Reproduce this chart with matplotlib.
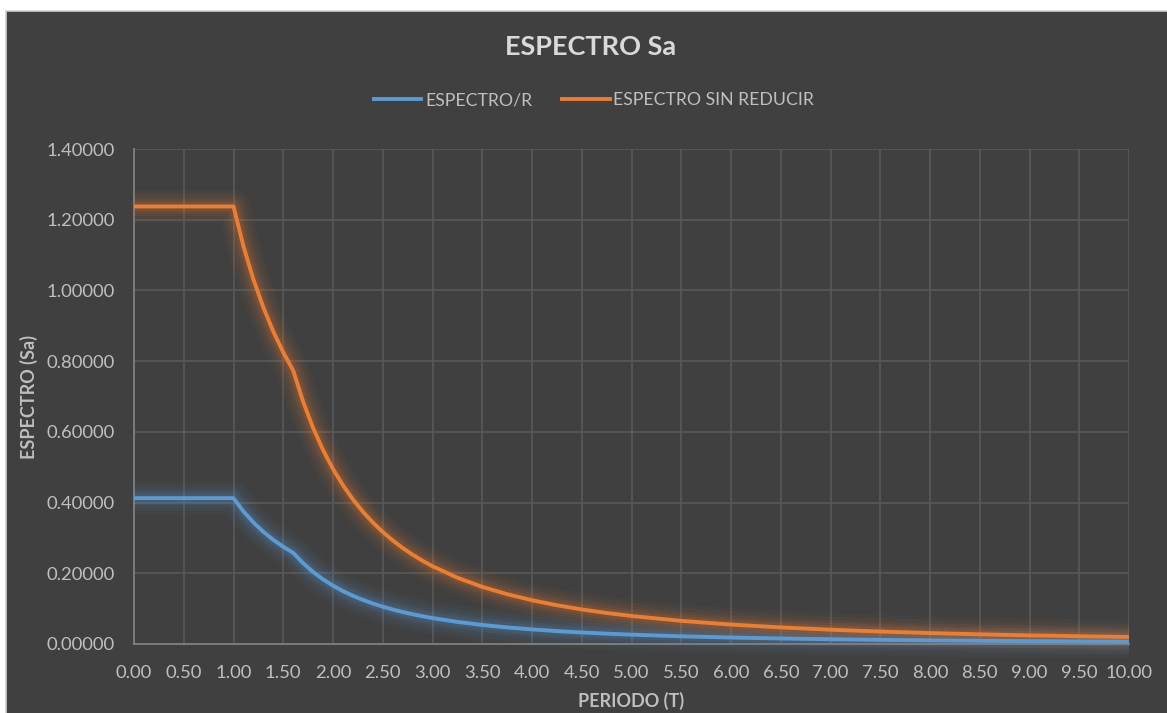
import matplotlib
matplotlib.use("Agg")
import matplotlib.pyplot as plt
from matplotlib.lines import Line2D
import numpy as np

# ---- data ----
periodo = [0.0, 0.1, 0.2, 0.3, 0.4, 0.5, 0.6, 0.7, 0.8, 0.9, 1.0,
           1.1, 1.2, 1.3, 1.4, 1.5, 1.6, 1.7, 1.8, 1.9, 2.0,
           2.1, 2.2, 2.3, 2.4, 2.5, 2.6, 2.7, 2.8, 2.9, 3.0,
           3.25, 3.5, 3.75, 4.0, 4.25, 4.5, 4.75, 5.0,
           5.5, 6.0, 6.5, 7.0, 7.5, 8.0, 8.5, 9.0, 9.5, 10.0]

espectro_sin_reducir = [1.2375, 1.2375, 1.2375, 1.2375, 1.2375, 1.2375, 1.2375, 1.2375, 1.2375, 1.2375, 1.2375,
                        1.1250, 1.0313, 0.9519, 0.8839, 0.8250, 0.7734, 0.6851, 0.6111, 0.5485, 0.4950,
                        0.4490, 0.4091, 0.3743, 0.3438, 0.3168, 0.2929, 0.2716, 0.2526, 0.2354, 0.2200,
                        0.1875, 0.1616, 0.1408, 0.1238, 0.1096, 0.0978, 0.0878, 0.0792,
                        0.0655, 0.0550, 0.0469, 0.0404, 0.0352, 0.0309, 0.0274, 0.0244, 0.0219, 0.0198]

espectro_r = [0.4125, 0.4125, 0.4125, 0.4125, 0.4125, 0.4125, 0.4125, 0.4125, 0.4125, 0.4125, 0.4125,
              0.3750, 0.3438, 0.3173, 0.2946, 0.2750, 0.2578, 0.2284, 0.2037, 0.1828, 0.1650,
              0.1497, 0.1364, 0.1248, 0.1146, 0.1056, 0.0976, 0.0905, 0.0842, 0.0785, 0.0733,
              0.0625, 0.0539, 0.0469, 0.0413, 0.0365, 0.0326, 0.0293, 0.0264,
              0.0218, 0.0183, 0.0156, 0.0135, 0.0117, 0.0103, 0.0091, 0.0081, 0.0073, 0.0066]

x_ticks = [0.0, 0.5, 1.0, 1.5, 2.0, 2.5, 3.0, 3.5, 4.0, 4.5, 5.0,
           5.5, 6.0, 6.5, 7.0, 7.5, 8.0, 8.5, 9.0, 9.5, 10.0]
y_ticks = [0.0, 0.2, 0.4, 0.6, 0.8, 1.0, 1.2, 1.4]

series_names = ["ESPECTRO/R", "ESPECTRO SIN REDUCIR"]
title = "ESPECTRO Sa"
x_label = "PERIODO (T)"
y_label = "ESPECTRO (Sa)"

# ---- style ----
FONT = ["Lato", "DejaVu Sans"]
plt.rcParams['font.family'] = FONT
BG = "#404040"
GRID = "#595959"
AXIS = "#808080"
TICK_TXT = "#bfbfbf"
LBL_TXT = "#d9d9d9"
BLUE = "#5b9bd5"
ORANGE = "#ed7d31"

W, H = 1167, 713
fig = plt.figure(figsize=(W / 100, H / 100), dpi=100)
fig.patch.set_facecolor("white")

# dark chart background with thin light border
bg = plt.Rectangle((6 / W, -0.01), 1 - 6 / W + 0.01, 1 - 11 / H + 0.01, transform=fig.transFigure,
                   facecolor=BG, edgecolor="#d0d0d0", linewidth=1.2, zorder=-10)
fig.patches.append(bg)

L, R, T, B = 134, 1129, 149, 644
ax = fig.add_axes([L / W, 1 - B / H, (R - L) / W, (B - T) / H])
ax.set_zorder(1)
ax.set_facecolor(BG)

ax.set_xlim(0, 10)
ax.set_ylim(0, 1.4)
ax.set_xticks(x_ticks)
ax.set_yticks(y_ticks)
ax.set_xticklabels([f"{v:.2f}" for v in x_ticks])
ax.set_yticklabels([f"{v:.5f}" for v in y_ticks])
ax.tick_params(axis="both", length=0, colors=TICK_TXT, labelsize=13.3)
ax.tick_params(axis="x", pad=15)
ax.tick_params(axis="y", pad=14)

ax.grid(True, color=GRID, linewidth=1.2)
ax.set_axisbelow(True)
for s in ["top", "right"]:
    ax.spines[s].set_visible(False)
for s in ["left", "bottom"]:
    ax.spines[s].set_color(AXIS)
    ax.spines[s].set_linewidth(1.3)

# glow + lines
for yvals, col in [(espectro_r, BLUE), (espectro_sin_reducir, ORANGE)]:
    for lw, a in [(24, 0.04), (19, 0.05), (14, 0.07), (10, 0.09), (6.5, 0.11)]:
        ax.plot(periodo, yvals, color=col, linewidth=lw, alpha=a,
                solid_capstyle="butt", solid_joinstyle="round", zorder=2, clip_on=False)
    ax.plot(periodo, yvals, color=col, linewidth=2.8,
            solid_capstyle="butt", solid_joinstyle="round", zorder=3, clip_on=False)

# title
fig.text(591 / W, 1 - 47 / H, title, ha="center", va="center",
         fontsize=19.5, fontweight="bold", color=LBL_TXT)

# legend
handles = [Line2D([], [], color=BLUE, linewidth=2.8),
           Line2D([], [], color=ORANGE, linewidth=2.8)]
leg = fig.legend(handles, series_names, loc="center", bbox_to_anchor=(594 / W, 1 - 100 / H),
                 ncol=2, frameon=False, fontsize=12.7, labelcolor=TICK_TXT,
                 handlelength=2.7, handletextpad=0.2, columnspacing=1.7)

# axis labels
fig.text((L + R) / 2 / W, 1 - 701 / H, x_label, ha="center", va="center",
         fontsize=13, fontweight="bold", color=TICK_TXT)
fig.text(29 / W, 1 - 397 / H, y_label, ha="center", va="center", rotation=90,
         fontsize=13, fontweight="bold", color=TICK_TXT)

fig.savefig("out.png", dpi=100, facecolor=fig.get_facecolor())
